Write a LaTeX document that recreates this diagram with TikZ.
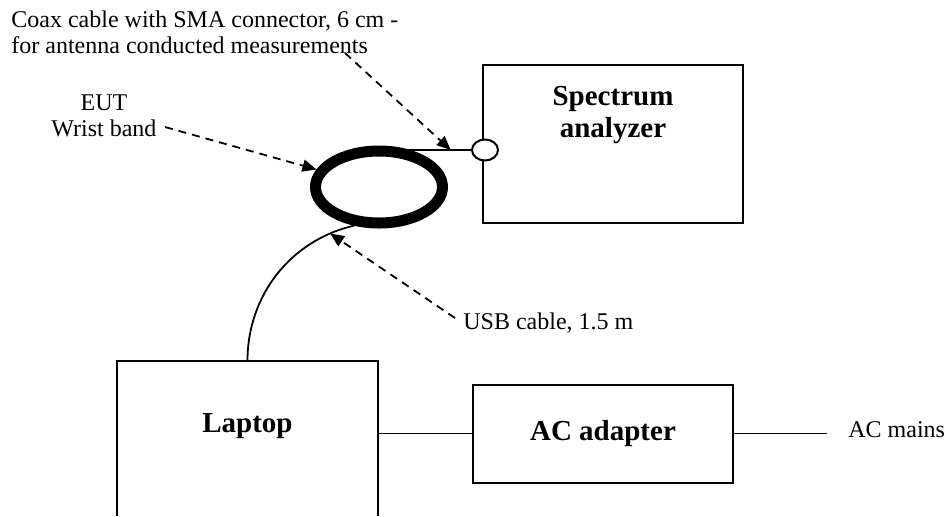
\documentclass[tikz,border=0pt]{standalone}
\usepackage{fontspec}
\setmainfont{Liberation Serif}
\usetikzlibrary{arrows.meta,shapes.geometric}
\begin{document}
\begin{tikzpicture}[x=0.5pt,y=-0.5pt,
  box/.style={draw,line width=1pt,inner sep=0pt},
  wire/.style={line width=0.9pt},
  callout/.style={line width=0.9pt,dash pattern=on 4pt off 3pt,-{Triangle[length=7pt,width=6pt]}},
  lbl/.style={font=\fontsize{12}{13}\selectfont,inner sep=0pt},
  title/.style={font=\fontsize{14.5}{16}\selectfont\bfseries,inner sep=0pt}]
\useasboundingbox (0,0) rectangle (947,516);
\coordinate (bot) at (0,516);

% Spectrum analyzer
\node[box,minimum width=130pt,minimum height=79pt] (spec) at (613,144) {};
\node[title,align=center,anchor=north] (spectxt) at (613,85.5) {Spectrum\\analyzer};

% EUT wrist band
\node[ellipse,draw,line width=5.5pt,minimum width=63.5pt,minimum height=36pt,inner sep=0pt] (band) at (379,187) {};

% SMA connector
\node[ellipse,draw,fill=white,line width=1pt,minimum width=13pt,minimum height=10.5pt,inner sep=0pt] (conn) at (485,150) {};
\draw[wire] (band.north |- conn.west) -- coordinate[pos=0.78] (coaxpt) (conn.west);

% Laptop
\node[title,minimum width=130.5pt,minimum height=65pt] (laptop) at (247.5,426) {Laptop};
\draw[line width=1pt] (laptop.north west |- bot) -- (laptop.north west) -- (laptop.north east) -- (laptop.north east |- bot);

% AC adapter
\node[box,title,minimum width=130pt,minimum height=49pt] (adapter) at (603,433.5) {AC adapter};
\node[lbl,inner xsep=10.5pt,anchor=base west] (mains) at (827,437.5) {AC mains};
\draw[wire] (adapter.west -| laptop.east) -- (adapter.west);
\draw[wire] (adapter.east) -- (adapter.east -| mains.west);

% USB cable
\draw[wire] (laptop.north) .. controls (247.5,296) and (290,240.5) .. (band.237) coordinate[pos=0.87] (usbpt);

% Labels
\node[lbl,align=left,anchor=north west] (coaxtxt) at (11,10) {Coax cable with SMA connector, 6 cm -\\for antenna conducted measurements};
\node[lbl,align=center,anchor=north] (eut) at (104,94) {EUT\\Wrist band};
\node[lbl,anchor=base west] (usb) at (463,329) {USB cable, 1.5 m};

% Callouts
\coordinate (c1) at (345,53);
\coordinate (c2) at (165,127);
\coordinate (c3) at (455,318);
\draw[callout] (c1) -- (coaxpt);
\draw[callout] (c2) -- (band);
\draw[callout] (c3) -- (usbpt);
\end{tikzpicture}
\end{document}
